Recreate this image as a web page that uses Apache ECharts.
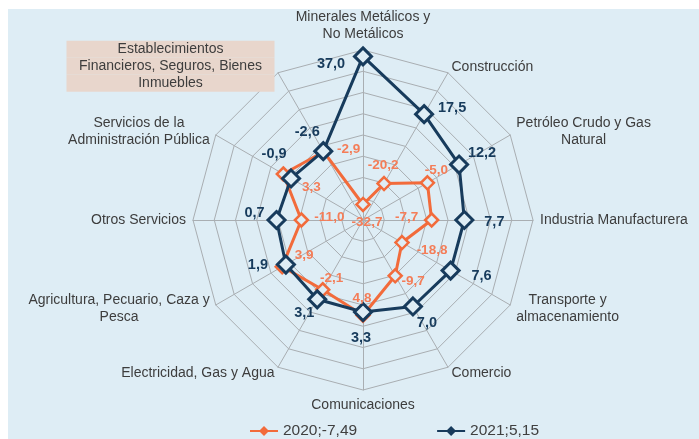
<!DOCTYPE html>
<html>
<head>
<meta charset="utf-8">
<script src="https://cdn.jsdelivr.net/npm/echarts@6/dist/echarts.min.js"></script>
<style>
  body { margin: 0; background: #ffffff; }
  #chart { position: absolute; left: 8px; top: 9px; width: 691px; height: 430px; }
</style>
</head>
<body>
<div id="chart"></div>
<script>
// indicadores, en el orden de ECharts (desde arriba, sentido antihorario)
const sectores = [
  'Minerales Metálicos y\nNo Metálicos',
  'Establecimientos\nFinancieros, Seguros, Bienes\nInmuebles',
  'Servicios de la\nAdministración Pública',
  'Otros Servicios',
  'Agricultura, Pecuario, Caza y\nPesca',
  'Electricidad, Gas y Agua',
  'Comunicaciones',
  'Comercio',
  'Transporte y\nalmacenamiento',
  'Industria Manufacturera',
  'Petróleo Crudo y Gas\nNatural',
  'Construcción'
];
const valores2020 = [-32.7, -2.9, 3.3, -11.0, 3.9, -2.1, 4.8, -9.7, -18.8, -7.7, -5.0, -20.2];
const valores2021 = [37.0, -2.6, -0.9, 0.7, 1.9, 3.1, 3.3, 7.0, 7.6, 7.7, 12.2, 17.5];
const nombres = ['2020;-7,49', '2021;5,15'];
const escalaMin = -40;
const escalaMax = 40;

// desplazamiento de cada etiqueta respecto a su punto (estilo)
const offs2020 = [[4, 18], [25, -2], [28, 13], [28, -3], [22, -11], [9, -11], [-1, -17], [18, 6], [30, 8], [-25, -3], [9, -13], [-1, -18]];
const offs2021 = [[-32, 8], [-16, -19], [-17, -24], [-22, -7], [-28, 0], [-13, 14], [-2, 26], [14, 17], [31, 5], [30, 2], [23, -12], [28, -6]];

const NARANJA = '#f26b3b';
const NARANJA_TXT = '#f47d58';
const AZUL = '#173b5c';
const FONDO = '#deedf5';
const fuente = 'Liberation Sans, Arial, sans-serif';

const fmt = v => v.toFixed(1).replace('.', ',');

function etiquetas (vals, offs, color, size) {
  return vals.map((v, i) => ({
    value: vals,
    symbol: 'circle',
    symbolSize: 1,
    lineStyle: { width: 0, opacity: 0 },
    itemStyle: { color: 'rgba(0,0,0,0)', borderWidth: 0 },
    label: {
      show: true,
      position: 'inside',
      offset: offs[i],
      color: color,
      fontSize: size,
      fontWeight: 'bold',
      fontFamily: fuente,
      textBorderWidth: 0,
      formatter: function (p) {
        let d = p.dimensionIndex != null ? p.dimensionIndex : vals.indexOf(p.value);
        return d === i ? fmt(vals[i]) : '';
      }
    }
  }));
}

let myChart = echarts.init(document.getElementById('chart'));
let option = {
  backgroundColor: FONDO,
  animation: false,
  legend: {
    data: [
      { name: nombres[0], itemStyle: { color: NARANJA, borderWidth: 0 } },
      { name: nombres[1], itemStyle: { color: AZUL, borderWidth: 0 } }
    ],
    left: 237,
    top: 409,
    itemGap: 80,
    itemWidth: 28,
    itemHeight: 10,
    icon: 'path://M0,4 L10,4 L14,0 L18,4 L28,4 L28,6 L18,6 L14,10 L10,6 L0,6 Z',
    textStyle: { color: '#404040', fontSize: 15.5, fontFamily: fuente }
  },
  radar: {
    center: [355, 211],
    radius: 170,
    startAngle: 90,
    splitNumber: 8,
    shape: 'polygon',
    nameGap: 7,
    indicator: sectores.map(n => ({ name: n, min: escalaMin, max: escalaMax })),
    axisName: {
      color: '#3d3d3d',
      fontSize: 14,
      fontFamily: fuente,
      formatter: function (name) {
        if (name.indexOf('Establecimientos') === 0) {
          return name.split('\n').map(l => '{b|' + l + '}').join('\n') + '\n{e|}';
        }
        return name.split('\n').map(l => '{c|' + l + '}').join('\n');
      },
      rich: {
        c: { align: 'center', color: '#3d3d3d', fontSize: 14, fontFamily: fuente, lineHeight: 17 },
        b: { align: 'center', color: '#3d3d3d', fontSize: 14, fontFamily: fuente, lineHeight: 17, height: 17,
             width: 208, backgroundColor: '#e8d6cc' },
        e: { fontSize: 1, lineHeight: 1, height: 1, width: 208 }
      }
    },
    splitLine: { lineStyle: { color: '#a9aeb2', width: 1 } },
    splitArea: { show: false },
    axisLine: { lineStyle: { color: '#a9aeb2', width: 1 } }
  },
  series: [{
    type: 'radar',
    emphasis: { disabled: true },
    data: [
      {
        name: nombres[0],
        value: valores2020,
        symbol: 'diamond',
        symbolSize: 13,
        lineStyle: { color: NARANJA, width: 3 },
        itemStyle: { color: FONDO, borderColor: NARANJA, borderWidth: 2.5 }
      },
      {
        name: nombres[1],
        value: valores2021,
        symbol: 'diamond',
        symbolSize: 17,
        lineStyle: { color: AZUL, width: 3 },
        itemStyle: { color: FONDO, borderColor: AZUL, borderWidth: 3 }
      }
    ].concat(etiquetas(valores2020, offs2020, NARANJA_TXT, 13.5))
     .concat(etiquetas(valores2021, offs2021, AZUL, 14.5))
  }]
};
myChart.setOption(option);
</script>
</body>
</html>
